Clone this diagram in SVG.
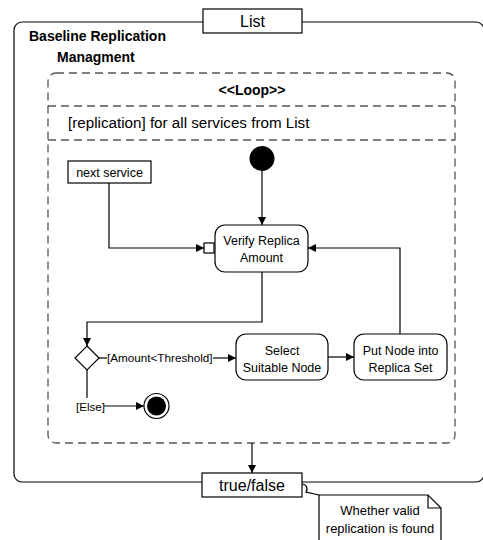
<svg xmlns="http://www.w3.org/2000/svg" width="483" height="540" viewBox="0 0 483 540">
<defs>
<style>
text{font-family:"Liberation Sans",Arial,sans-serif;fill:#000}
.b{font-weight:bold}
.n{font-size:12.5px;text-anchor:middle}
.ln{fill:none;stroke:#000;stroke-width:1.2}
.box{fill:#fff;stroke:#000;stroke-width:1.2}
.dash{fill:none;stroke:#555;stroke-width:1.3;stroke-dasharray:8 5}
</style>
<marker id="ah" viewBox="0 0 10 10" refX="10" refY="5" markerWidth="8" markerHeight="8" markerUnits="userSpaceOnUse" orient="auto">
<path d="M0,0 L10,5 L0,10 Z" fill="#000"/>
</marker>
</defs>
<rect width="483" height="540" fill="#fff"/>

<g id="frame">
<rect x="14" y="22" width="470" height="460" rx="8" class="ln" stroke-width="1.3"/>
<text x="29" y="41" class="b" font-size="14">Baseline Replication</text>
<text x="57" y="62" class="b" font-size="14">Managment</text>
</g>

<g id="loop">
<rect x="48" y="73" width="407" height="370" rx="8" class="dash"/>
<line x1="48" y1="106" x2="455" y2="106" class="dash"/>
<line x1="48" y1="140" x2="455" y2="140" class="dash"/>
<text x="252" y="95" class="b" font-size="14" text-anchor="middle">&lt;&lt;Loop&gt;&gt;</text>
<text x="68" y="128" font-size="15.2">[replication] for all services from List</text>
</g>

<g id="list">
<rect x="203" y="9" width="99" height="24" class="box"/>
<text x="252.5" y="27" font-size="16" text-anchor="middle">List</text>
</g>

<g id="truefalse">
<rect x="202" y="473" width="100" height="24" class="box"/>
<text x="252" y="491" font-size="16" text-anchor="middle">true/false</text>
</g>

<g id="note">
<path d="M319,540 L319,495 L428,495 L441,508 L441,540" class="box"/>
<path d="M428,495 L428,508 L441,508" class="ln"/>
<text x="380" y="515" font-size="13" text-anchor="middle">Whether valid</text>
<text x="380" y="533" font-size="13" text-anchor="middle">replication is found</text>
</g>

<g id="initial">
<circle cx="262" cy="158.5" r="12.5" fill="#000"/>
</g>

<g id="nextservice">
<rect x="68" y="161" width="83" height="22" class="box"/>
<text x="109.5" y="177" class="n">next service</text>
</g>

<g id="verify">
<rect x="215" y="225" width="93" height="47" rx="10" class="box"/>
<rect x="204" y="243" width="10" height="10" class="box"/>
<text x="261.5" y="245" class="n">Verify Replica</text>
<text x="261.5" y="262" class="n">Amount</text>
</g>

<g id="decision">
<path d="M87,346 L99,358 L87,370 L75,358 Z" class="box"/>
</g>

<g id="select">
<rect x="236" y="334" width="92" height="46" rx="10" class="box"/>
<text x="282" y="355" class="n">Select</text>
<text x="282" y="372" class="n">Suitable Node</text>
</g>

<g id="put">
<rect x="354" y="334" width="93" height="46" rx="10" class="box"/>
<text x="400.5" y="355" class="n">Put Node into</text>
<text x="400.5" y="372" class="n">Replica Set</text>
</g>

<g id="final">
<circle cx="156.5" cy="406" r="12.5" fill="#fff" stroke="#000" stroke-width="1.2"/>
<circle cx="156.5" cy="406" r="9.5" fill="#000"/>
</g>

<g id="connectors">
<path d="M262,171 L262,225" class="ln" marker-end="url(#ah)"/>
<path d="M109,183 L109,248 L204,248" class="ln" marker-end="url(#ah)"/>
<path d="M400,334 L400,248 L308,248" class="ln" marker-end="url(#ah)"/>
<path d="M262,272 L262,322 L87,322 L87,346" class="ln" marker-end="url(#ah)"/>
<path d="M99,358 L107,358" class="ln"/>
<text x="107" y="362" font-size="11.7">[Amount&lt;Threshold]</text>
<path d="M213,358 L236,358" class="ln" marker-end="url(#ah)"/>
<path d="M328,357 L354,357" class="ln" marker-end="url(#ah)"/>
<path d="M87,370 L87,398" class="ln"/>
<text x="90.5" y="411" font-size="11.5" text-anchor="middle">[Else]</text>
<path d="M104,406 L144,406" class="ln" marker-end="url(#ah)"/>
<path d="M252,443 L252,473" class="ln" marker-end="url(#ah)"/>
<path d="M302,484 A5,5 0 0 1 306,492 L319,495" class="ln"/>
</g>
</svg>
